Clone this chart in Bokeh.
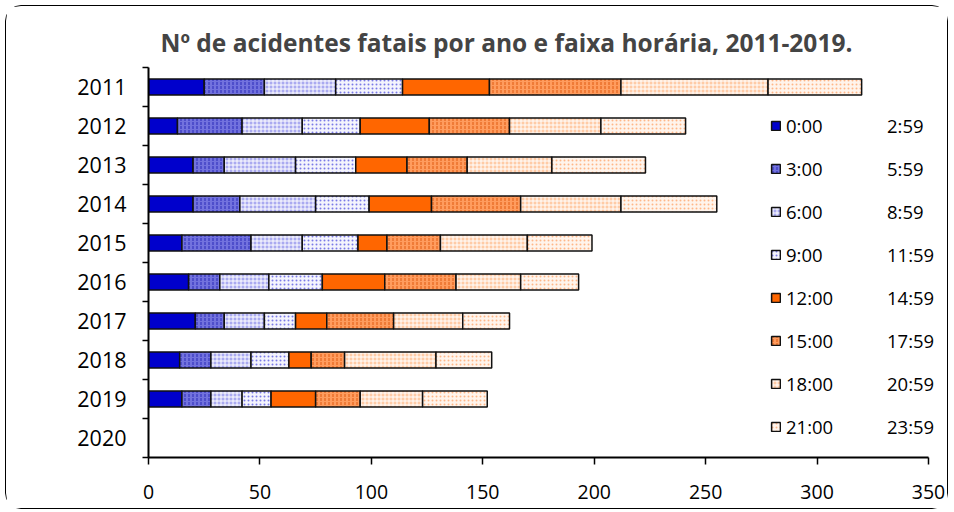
from bokeh.plotting import figure
from bokeh.models import (ColumnDataSource, Range1d, FixedTicker, Legend, LegendItem)
from bokeh.transform import stack
from bokeh.embed import file_html
from bokeh.resources import INLINE

# ---- data ----
years = ["2011", "2012", "2013", "2014", "2015", "2016", "2017", "2018", "2019", "2020"]
data_years = ["2011", "2012", "2013", "2014", "2015", "2016", "2017", "2018", "2019"]
h00 = [25, 13, 20, 20, 15, 18, 21, 14, 15]
h03 = [27, 29, 14, 21, 31, 14, 13, 14, 13]
h06 = [32, 27, 32, 34, 23, 22, 18, 18, 14]
h09 = [30, 26, 27, 24, 25, 24, 14, 17, 13]
h12 = [39, 31, 23, 28, 13, 28, 14, 10, 20]
h15 = [59, 36, 27, 40, 24, 32, 30, 15, 20]
h18 = [66, 41, 38, 45, 39, 29, 31, 41, 28]
h21 = [42, 38, 42, 43, 29, 26, 21, 25, 29]
start_labels = ["0:00", "3:00", "6:00", "9:00", "12:00", "15:00", "18:00", "21:00"]
end_labels = ["2:59", "5:59", "8:59", "11:59", "14:59", "17:59", "20:59", "23:59"]
x_ticks = [0, 50, 100, 150, 200, 250, 300, 350]
title_text = "Nº de acidentes fatais por ano e faixa horária, 2011-2019."

series_names = ["h00", "h03", "h06", "h09", "h12", "h15", "h18", "h21"]
series_vals = [h00, h03, h06, h09, h12, h15, h18, h21]

# ---- styles ----
fills = ["#0000CC", "#7272DE", "#AAAAF0", "#F4F4FD", "#FF6600", "#FF9C5E", "#FFCBA6", "#FFF4EC"]
hatches = [" ", ":", "+", ".", " ", ":", "+", "."]
hatch_cols = ["#0000CC", "#2A2AB8", "#FFFFFF", "#7A7AE6", "#FF6600", "#E05A10", "#FFFFFF", "#FFB788"]

n = len(years)
ypos = {y: n - i - 0.5 for i, y in enumerate(years)}

src = {"y": [ypos[y] for y in data_years]}
for name, vals in zip(series_names, series_vals):
    src[name] = vals
source = ColumnDataSource(src)

FONT = "Open Sans"

# frame: 780 px for the 0-350 axis, plus extra room on the right for the legend text
AXIS_PX = 780
FRAME_W = 796
x_end = x_ticks[-1] * FRAME_W / AXIS_PX

p = figure(output_backend="svg", toolbar_location=None,
           x_range=Range1d(0, x_end), y_range=Range1d(0, n),
           min_border_left=142, min_border_right=3, min_border_top=61, min_border_bottom=51)
p.frame_width = FRAME_W
p.frame_height = 390
p.styles = {"margin": "5px 0 0 5px", "border": "1.5px solid #000", "border-radius": "16px"}

renderers = []
for i, name in enumerate(series_names):
    r = p.hbar(y="y", left=stack(*series_names[:i]), right=stack(*series_names[:i + 1]),
               height=0.41, source=source, fill_color=fills[i], hatch_pattern=hatches[i],
               hatch_color=hatch_cols[i], hatch_scale=4, hatch_weight=1,
               line_color="#111111", line_width=1.5)
    renderers.append(r)

# axes
p.xgrid.visible = False
p.ygrid.visible = False
p.outline_line_color = None

xa = p.xaxis[0]
xa.ticker = FixedTicker(ticks=x_ticks)
xa.bounds = (x_ticks[0], x_ticks[-1])
xa.axis_line_width = 2
xa.axis_line_color = "black"
xa.major_tick_out = 7
xa.major_tick_in = 0
xa.major_tick_line_width = 1.5
xa.minor_tick_line_color = None
xa.major_label_text_font = FONT
xa.major_label_text_font_size = "19.5px"
xa.major_label_text_color = "black"
xa.major_label_standoff = 20

ya = p.yaxis[0]
ya.ticker = FixedTicker(ticks=[ypos[y] for y in years], minor_ticks=list(range(n + 1)))
ya.major_label_overrides = {ypos[y]: y for y in years}
ya.axis_line_width = 2
ya.axis_line_color = "black"
ya.major_tick_line_color = None
ya.major_tick_out = 0
ya.major_tick_in = 0
ya.minor_tick_out = 6
ya.minor_tick_in = 0
ya.minor_tick_line_width = 1.5
ya.minor_tick_line_color = "black"
ya.major_label_text_font = FONT
ya.major_label_text_font_size = "21.5px"
ya.major_label_text_color = "black"
ya.major_label_standoff = 16

# title
p.title.text = title_text
p.title.text_font = FONT
p.title.text_font_style = "bold"
p.title.text_font_size = "24.5px"
p.title.align = "left"
p.title.offset = 12
p.title.standoff = 17

# legend: glyph + start of time band
items = [LegendItem(label=lab, renderers=[r]) for lab, r in zip(start_labels, renderers)]
legend = Legend(items=items, location=(622, 18), orientation="vertical",
                glyph_width=11, glyph_height=11, label_height=26, spacing=17,
                label_standoff=5, padding=0, margin=0,
                border_line_color=None, background_fill_alpha=0,
                label_text_font=FONT, label_text_font_size="18.5px", label_text_color="black")
p.add_layout(legend)

# second legend column: end of time band (no glyph)
blank = p.hbar(y=[], left=[], right=[], height=0.4, fill_alpha=0, line_alpha=0)
items2 = [LegendItem(label=lab, renderers=[blank]) for lab in end_labels]
legend2 = Legend(items=items2, location=(739, 18), orientation="vertical",
                 glyph_width=0, glyph_height=11, label_height=26, spacing=17,
                 label_standoff=0, padding=0, margin=0,
                 border_line_color=None, background_fill_alpha=0,
                 label_text_font=FONT, label_text_font_size="18.5px", label_text_color="black")
p.add_layout(legend2)

open("out.html", "w").write(file_html(p, INLINE))
